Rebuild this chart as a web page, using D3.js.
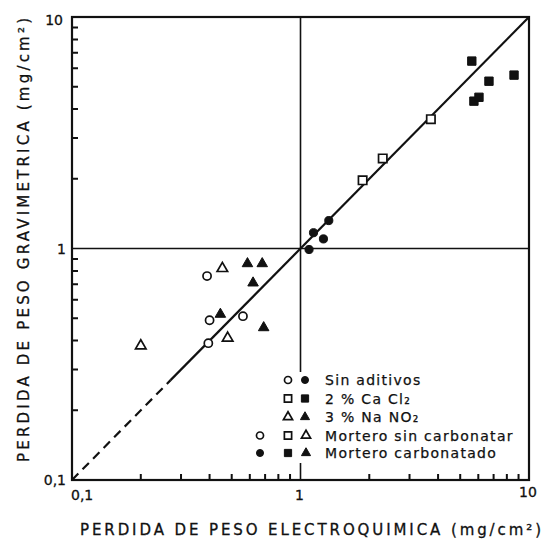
<!DOCTYPE html>
<html>
<head>
<meta charset="utf-8">
<script src="https://cdn.jsdelivr.net/npm/d3@7"></script>
<style>
  body { margin: 0; background: #fff; }
  text { font-family: "DejaVu Sans", sans-serif; fill: #111; }
</style>
</head>
<body>
<svg id="chart" width="544" height="541"></svg>
<script>
// pairs are [electroquimica, gravimetrica], mg/cm2
const sinAditivosSinCarb = [[0.39, 0.76], [0.40, 0.49], [0.395, 0.39], [0.56, 0.51]]
const sinAditivosCarb = [[1.33, 1.32], [1.14, 1.17], [1.26, 1.10], [1.09, 0.99]]
const caclSinCarb = [[3.72, 3.62], [2.29, 2.45], [1.87, 1.97]]
const caclCarb = [[5.62, 6.45], [6.68, 5.28], [8.60, 5.61], [5.74, 4.33], [6.04, 4.50]]
const nanoSinCarb = [[0.455, 0.82], [0.48, 0.41], [0.20, 0.38]]
const nanoCarb = [[0.586, 0.86], [0.68, 0.86], [0.62, 0.71], [0.446, 0.52], [0.69, 0.455]]

const majorTicks = [0.1, 1, 10]
const tickLabels = ["0,1", "1", "10"]
const minorTicks = [0.2, 0.3, 0.4, 0.5, 0.6, 0.7, 0.8, 0.9, 2, 3, 4, 5, 6, 7, 8, 9]
const dashedUntil = 0.27

const legendLabels = ["Sin aditivos", "2 % Ca Cl\u2082", "3 % Na NO\u2082", "Mortero sin carbonatar", "Mortero carbonatado"]
const legendSymbols = [
  ["circle-open", "circle-fill"],
  ["square-open", "square-fill"],
  ["triangle-open", "triangle-fill"],
  ["circle-open", "square-open", "triangle-open"],
  ["circle-fill", "square-fill", "triangle-fill"]
]

const xTitle = "PERDIDA DE PESO ELECTROQUIMICA (mg/cm\u00b2)"
const yTitle = "PERDIDA DE PESO GRAVIMETRICA (mg/cm\u00b2)"

const ink = "#111"
const svg = d3.select("#chart")

const x = d3.scaleLog().domain([0.1, 10]).range([72, 529])
const y = d3.scaleLog().domain([0.1, 10]).range([480, 17])

// symbols
const shapes = { circle: d3.symbolCircle, square: d3.symbolSquare, triangle: d3.symbolTriangle }
const sizes = { circle: 52, square: 70, triangle: 48 }

function drawSymbol(g, kind, cx, cy, scale) {
  let [shape, fill] = kind.split("-")
  let s = scale || 1
  g.append("path")
    .attr("d", d3.symbol().type(shapes[shape]).size(sizes[shape] * s)())
    .attr("transform", `translate(${cx},${cy})`)
    .attr("fill", fill == "fill" ? ink : "#fff")
    .attr("stroke", ink)
    .attr("stroke-width", fill == "fill" ? 1 : 1.7)
}

// grid lines at 1
svg.append("line")
  .attr("x1", x(1)).attr("x2", x(1))
  .attr("y1", y(10)).attr("y2", y(0.1))
  .attr("stroke", ink).attr("stroke-width", 1.6)
svg.append("line")
  .attr("x1", x(0.1)).attr("x2", x(10))
  .attr("y1", y(1)).attr("y2", y(1))
  .attr("stroke", ink).attr("stroke-width", 1.6)

// frame
svg.append("rect")
  .attr("x", x(0.1)).attr("y", y(10))
  .attr("width", x(10) - x(0.1)).attr("height", y(0.1) - y(10))
  .attr("fill", "none")
  .attr("stroke", ink).attr("stroke-width", 2.2)

// minor ticks pointing inward
let tickLen = 6
svg.append("path")
  .attr("d", minorTicks.map(d => `M${x(d)},${y(0.1)}V${y(0.1) - tickLen}`).join(""))
  .attr("stroke", ink).attr("stroke-width", 2).attr("fill", "none")
svg.append("path")
  .attr("d", minorTicks.map(d => `M${x(0.1)},${y(d)}H${x(0.1) + tickLen}`).join(""))
  .attr("stroke", ink).attr("stroke-width", 2).attr("fill", "none")

// major tick labels
let labelFont = 14
svg.selectAll(".ylab").data(majorTicks).enter().append("text")
  .attr("class", "ylab")
  .attr("x", (d, i) => i == 2 ? 63 : 66)
  .attr("y", (d, i) => i == 2 ? y(d) + 8 : y(d) + 5)
  .attr("text-anchor", "end")
  .attr("font-size", labelFont)
  .attr("stroke", ink).attr("stroke-width", 0.3)
  .text((d, i) => tickLabels[i])
svg.selectAll(".xlab").data(majorTicks).enter().append("text")
  .attr("class", "xlab")
  .attr("x", d => x(d) - 1)
  .attr("y", (d, i) => i == 2 ? 497 : 500)
  .attr("text-anchor", (d, i) => i == 0 ? "start" : "middle")
  .attr("font-size", labelFont)
  .attr("stroke", ink).attr("stroke-width", 0.3)
  .text((d, i) => tickLabels[i])

// y = x reference line, dashed at low end
svg.append("line")
  .attr("x1", x(0.1)).attr("y1", y(0.1))
  .attr("x2", x(dashedUntil)).attr("y2", y(dashedUntil))
  .attr("stroke", ink).attr("stroke-width", 2.2)
  .attr("stroke-dasharray", "9,6")
svg.append("line")
  .attr("x1", x(dashedUntil)).attr("y1", y(dashedUntil))
  .attr("x2", x(10)).attr("y2", y(10))
  .attr("stroke", ink).attr("stroke-width", 2.2)

// data points
let pts = svg.append("g")
let series = [
  [sinAditivosSinCarb, "circle-open"],
  [sinAditivosCarb, "circle-fill"],
  [caclSinCarb, "square-open"],
  [caclCarb, "square-fill"],
  [nanoSinCarb, "triangle-open"],
  [nanoCarb, "triangle-fill"]
]
series.forEach(function(s) {
  s[0].forEach(function(p) {
    drawSymbol(pts, s[1], x(p[0]), y(p[1]))
  })
})

// legend, white box covers the grid line
let legend = svg.append("g")
legend.append("rect")
  .attr("x", 252).attr("y", 372)
  .attr("width", 275).attr("height", 91)
  .attr("fill", "#fff")

let rowY = [380, 398.5, 417, 435.5, 453]
legendLabels.forEach(function(label, i) {
  let cols = legendSymbols[i].length == 2 ? [288, 305] : [260, 288, 306]
  legendSymbols[i].forEach(function(kind, j) {
    drawSymbol(legend, kind, cols[j], rowY[i], 0.75)
  })
  legend.append("text")
    .attr("x", 325)
    .attr("y", rowY[i] + 5)
    .attr("font-size", 14)
    .attr("letter-spacing", 1.3)
    .attr("stroke", ink).attr("stroke-width", 0.25)
    .text(label)
})

// axis titles
svg.append("text")
  .attr("x", 80).attr("y", 535)
  .attr("font-size", 15)
  .attr("textLength", 461)
  .attr("lengthAdjust", "spacing")
  .attr("stroke", ink).attr("stroke-width", 0.3)
  .text(xTitle)
svg.append("text")
  .attr("transform", "translate(29,462) rotate(-90)")
  .attr("font-size", 15)
  .attr("textLength", 444)
  .attr("lengthAdjust", "spacing")
  .attr("stroke", ink).attr("stroke-width", 0.3)
  .text(yTitle)
</script>
</body>
</html>
